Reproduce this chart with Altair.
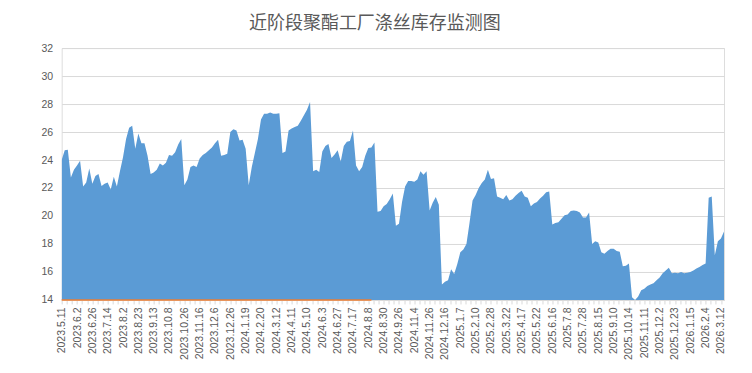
import altair as alt
import pandas as pd

title_text = "近阶段聚酯工厂涤丝库存监测图"

tick_labels = [
    "2023.5.11", "2023.6.2", "2023.6.26", "2023.7.14", "2023.8.2", "2023.8.23",
    "2023.9.13", "2023.10.8", "2023.10.26", "2023.11.16", "2023.12.6", "2023.12.26",
    "2024.1.19", "2024.2.20", "2024.3.12", "2024.4.11", "2024.5.10", "2024.6.3",
    "2024.6.27", "2024.7.17", "2024.8.8", "2024.8.30", "2024.9.26", "2024.11.4",
    "2024.11.26", "2024.12.16", "2025.1.7", "2025.2.10", "2025.2.28", "2025.3.22",
    "2025.4.17", "2025.5.22", "2025.6.16", "2025.7.8", "2025.7.28", "2025.8.15",
    "2025.9.10", "2025.10.14", "2025.11.11", "2025.12.2", "2025.12.23", "2026.1.15",
    "2026.2.4", "2026.3.12",
]

# inventory (days), 5 samples per labelled interval
inventory = [
    24.0, 24.7, 24.74, 22.75, 23.3, 23.6, 23.95, 22.1, 22.4, 23.4,
    22.3, 22.85, 23.0, 22.15, 22.3, 22.4, 21.9, 22.8, 22.1, 23.2,
    24.2, 25.5, 26.3, 26.45, 24.8, 25.9, 25.2, 25.2, 24.3, 23.0,
    23.1, 23.3, 23.75, 23.6, 23.8, 24.35, 24.3, 24.55, 25.1, 25.5,
    22.2, 22.6, 23.5, 23.6, 23.5, 24.1, 24.35, 24.5, 24.7, 24.9,
    25.2, 25.45, 24.3, 24.35, 24.45, 26.0, 26.2, 26.1, 25.4, 25.45,
    24.8, 22.2, 23.5, 24.5, 25.5, 26.9, 27.3, 27.3, 27.4, 27.3,
    27.3, 27.35, 24.5, 24.6, 26.1, 26.25, 26.35, 26.45, 26.8, 27.2,
    27.6, 28.15, 23.2, 23.3, 23.15, 24.6, 25.0, 25.15, 24.15, 24.4,
    24.7, 23.9, 25.0, 25.3, 25.35, 26.1, 23.6, 23.2, 23.5, 24.3,
    24.85, 24.9, 25.25, 20.3, 20.35, 20.7, 20.85, 21.2, 21.6, 19.3,
    19.45, 21.0, 22.1, 22.5, 22.5, 22.45, 22.6, 23.2, 22.95, 23.2,
    20.4, 20.95, 21.35, 20.8, 15.1, 15.3, 15.4, 16.2, 15.85, 16.55,
    17.4, 17.6, 18.0, 19.5, 21.1, 21.5, 22.0, 22.35, 22.6, 23.3,
    22.65, 22.7, 21.4, 21.3, 21.2, 21.5, 21.1, 21.2, 21.45, 21.65,
    21.8, 21.4, 21.3, 20.7, 20.9, 21.0, 21.25, 21.45, 21.7, 21.75,
    19.4, 19.5, 19.55, 19.8, 20.05, 20.1, 20.35, 20.4, 20.35, 20.25,
    19.9, 19.9, 20.25, 18.0, 18.2, 18.1, 17.4, 17.3, 17.5, 17.65,
    17.65, 17.5, 17.45, 16.4, 16.45, 16.6, 14.2, 14.0, 14.25, 14.7,
    14.8, 15.0, 15.1, 15.2, 15.4, 15.6, 15.9, 16.1, 16.3, 15.9,
    15.95, 15.9, 16.0, 15.9, 15.95, 16.0, 16.1, 16.25, 16.35, 16.5,
    16.6, 21.3, 21.4, 17.2, 18.2, 18.4, 18.9,
]

# second series (sits on the axis floor)
second_series = [14.0] * 102

y_ticks = [14, 16, 18, 20, 22, 24, 26, 28, 30, 32]

n = len(inventory)
df = pd.DataFrame({"idx": list(range(n)), "v": inventory})
df2 = pd.DataFrame({"idx": list(range(len(second_series))), "v": second_series})

tick_vals = [k * 5 / 3 for k in range(0, 200) if k * 5 / 3 <= n - 1]
labels_js = "[" + ",".join("'" + s + "'" for s in tick_labels) + "]"
label_expr = (
    f"(round(datum.value*3/5) % 3 == 0) ? {labels_js}[round(datum.value/5)] : ''"
)

x_scale = alt.Scale(domain=[0, n - 1], nice=False, zero=False)
y_scale = alt.Scale(domain=[14, 32], nice=False, zero=False)

x_axis = alt.Axis(
    values=tick_vals,
    labelExpr=label_expr,
    labelAngle=270,
    labelFont="Liberation Sans",
    labelFontSize=10.5,
    labelColor="#595959",
    labelPadding=3,
    labelOverlap=False,
    labelFlush=False,
    labelBound=False,
    grid=False,
    domain=True,
    domainColor="#d9d9d9",
    ticks=True,
    tickColor="#d9d9d9",
    tickSize=4,
    title=None,
)
y_axis = alt.Axis(
    values=y_ticks,
    labelFont="Liberation Sans",
    labelFontSize=10.5,
    labelColor="#595959",
    labelPadding=9,
    labelOverlap=False,
    labelFlush=False,
    grid=True,
    gridColor="#d9d9d9",
    gridWidth=1,
    domain=False,
    ticks=False,
    title=None,
)

area = alt.Chart(df).mark_area(color="#5b9bd5", opacity=1, clip=True).encode(
    x=alt.X("idx:Q", scale=x_scale, axis=x_axis),
    y=alt.Y("v:Q", scale=y_scale, axis=y_axis),
    y2=alt.datum(14),
)

line2 = alt.Chart(df2).mark_line(color="#ed7d31", strokeWidth=1.5).encode(
    x=alt.X("idx:Q", scale=x_scale, axis=x_axis),
    y=alt.Y("v:Q", scale=y_scale, axis=y_axis),
)

chart = (
    alt.layer(area, line2)
    .properties(
        width=662.6,
        height=252,
        autosize=alt.AutoSizeParams(type="none"),
        padding={"left": 53.7, "top": 40, "right": 20, "bottom": 62},
        title=alt.TitleParams(
            title_text,
            font="Noto Sans CJK SC",
            fontSize=18,
            fontWeight="normal",
            color="#595959",
            anchor="middle",
            dx=-18,
            offset=10,
        ),
    )
    .configure_view(strokeOpacity=0)
    .configure(background="white")
)

chart.save("out.html", embed_options={"renderer": "svg", "actions": False})
